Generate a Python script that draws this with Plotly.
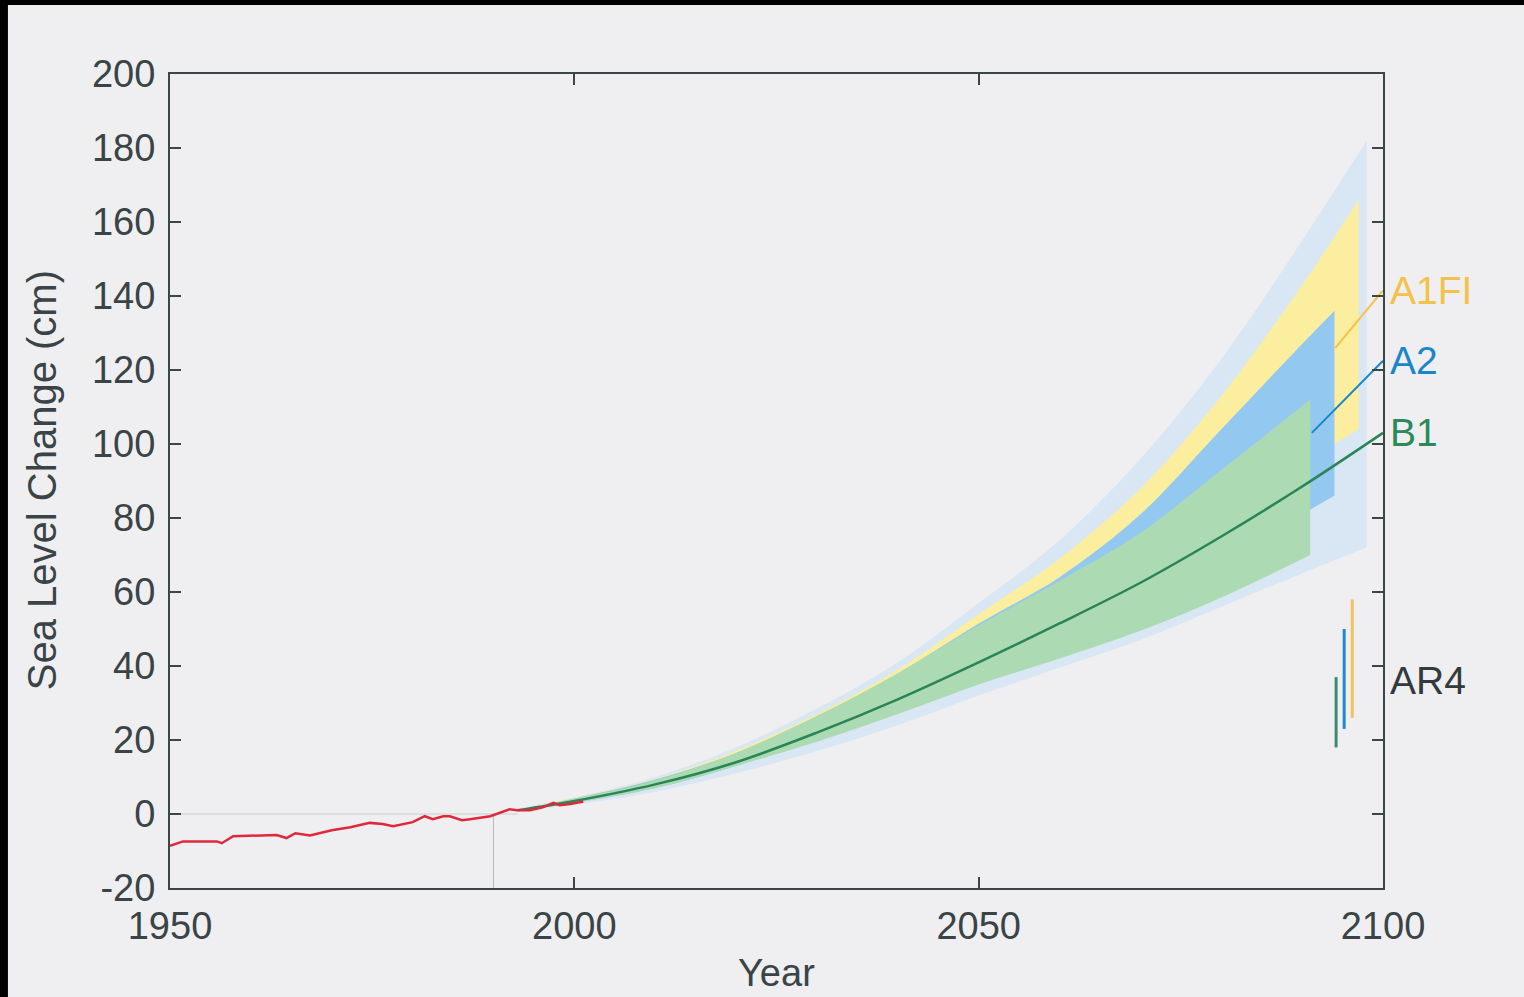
import plotly.graph_objects as go

# ---------------- data ----------------
obs_years = [1950, 1951.6, 1955.8, 1956.4, 1957.8, 1961.1, 1963.2, 1964.4, 1965.5, 1967.3,
             1968.9, 1970, 1972.3, 1974.7, 1976.3, 1977.6, 1980, 1981.5, 1982.5, 1983.8,
             1984.6, 1986.1, 1987.1, 1989.6, 1992, 1992.9, 1994.5, 1996.1, 1997.4, 1998.2,
             1999.5, 2001.1]
obs_values = [-8.6, -7.4, -7.4, -7.9, -6.0, -5.7, -5.7, -6.5, -5.2, -5.8,
              -5.0, -4.4, -3.6, -2.4, -2.7, -3.3, -2.2, -0.6, -1.4, -0.6,
              -0.6, -1.7, -1.4, -0.6, 1.3, 1.0, 1.0, 1.8, 3.0, 2.4,
              2.7, 3.4]

env_years = [1993, 2000, 2010, 2020, 2030, 2040, 2050, 2060, 2070, 2080, 2090, 2098]
env_upper = [1.5, 4.5, 10, 18, 28.5, 41, 57, 74, 96, 123, 155, 182]
env_lower = [1.0, 2.5, 6, 11, 17, 24, 32, 39.5, 47, 56, 65, 72]

a1fi_years = [1995, 2000, 2010, 2020, 2030, 2040, 2050, 2060, 2070, 2080, 2090, 2097]
a1fi_upper = [2.0, 4.3, 9.5, 17, 27, 39, 54, 69, 88, 113, 143, 166]
a1fi_lower = [1.5, 3.2, 7.2, 13.5, 21, 29, 38, 49, 61, 74, 94, 104]

a2_years = [1995, 2000, 2010, 2020, 2030, 2040, 2050, 2060, 2070, 2080, 2090, 2094]
a2_upper = [2.0, 4.2, 9.3, 16.5, 26.5, 38, 51.5, 64, 81, 104, 127, 136]
a2_lower = [1.5, 3.0, 7, 13, 20, 28, 36, 46, 57, 68, 81, 86]

b1_years = [1995, 2000, 2010, 2020, 2030, 2040, 2050, 2060, 2070, 2080, 2091]
b1_upper = [2.0, 4.1, 9, 16.5, 26.5, 38, 51, 63, 76, 93, 112]
b1_lower = [1.5, 3.0, 7, 13, 19.5, 27, 35, 42, 49.5, 58.5, 70]

b1_mid_years = [1993, 2000, 2010, 2020, 2030, 2040, 2050, 2060, 2070, 2080, 2090, 2100]
b1_mid_values = [1.0, 3.5, 8, 14, 22, 31, 41, 51.5, 62.5, 75, 88.5, 103]

a2_lead_years = [2091.2, 2100]
a2_lead_values = [103, 122.5]
a1fi_lead_years = [2094.1, 2100]
a1fi_lead_values = [126, 141.5]

ar4_names = ["B1", "A2", "A1FI"]
ar4_x = [2094.2, 2095.2, 2096.2]
ar4_low = [18, 23, 26]
ar4_high = [37, 50, 58]

ref_zero_years = [1950, 1993]
ref_zero_values = [0, 0]
ref_vert_years = [1990, 1990]
ref_vert_values = [-20, 0]

label_names = ["A1FI", "A2", "B1", "AR4"]
label_values = [141.5, 122.5, 103, 36]

x_ticks = [1950, 2000, 2050, 2100]
x_tick_labels = ["1950", "2000", "2050", "2100"]
y_ticks = [-20, 0, 20, 40, 60, 80, 100, 120, 140, 160, 180, 200]
y_tick_labels = ["-20", "0", "20", "40", "60", "80", "100", "120", "140", "160", "180", "200"]

# ---------------- style ----------------
BG = "#efeff1"
AXC = "#3b4746"
TXT = "#3a4446"
FONT = "Liberation Sans, Arial, sans-serif"

C_ENV = "#d9e7f4"
C_A1FI = "#fbee9e"
C_A2 = "#93c9f0"
C_B1 = "#acdab2"
C_RED = "#e0283c"
C_GREEN = "#2a8456"
C_A2L = "#1b86c8"
C_A1FIL = "#f2c24a"
AR4_COL = ["#3d8a70", "#1c8ad0", "#f2c25a"]
LABEL_COL = ["#f2c24a", "#1b86c8", "#2a8a5a", "#333a3c"]

fig = go.Figure()


def band(years, lower, upper, color):
    fig.add_trace(go.Scatter(x=years, y=lower, mode="lines", line=dict(width=0, shape="spline", smoothing=1.0),
                             showlegend=False, hoverinfo="skip"))
    fig.add_trace(go.Scatter(x=years, y=upper, mode="lines", line=dict(width=0, shape="spline", smoothing=1.0),
                             fill="tonexty", fillcolor=color, showlegend=False, hoverinfo="skip"))


# reference lines
fig.add_trace(go.Scatter(x=ref_zero_years, y=ref_zero_values, mode="lines",
                         line=dict(color="#c9cfcf", width=1), showlegend=False))
fig.add_trace(go.Scatter(x=ref_vert_years, y=ref_vert_values, mode="lines",
                         line=dict(color="#b5bbbb", width=1), showlegend=False))

band(env_years, env_lower, env_upper, C_ENV)
band(a1fi_years, a1fi_lower, a1fi_upper, C_A1FI)
band(a2_years, a2_lower, a2_upper, C_A2)
band(b1_years, b1_lower, b1_upper, C_B1)

fig.add_trace(go.Scatter(x=a1fi_lead_years, y=a1fi_lead_values, mode="lines",
                         line=dict(color=C_A1FIL, width=2), showlegend=False))
fig.add_trace(go.Scatter(x=a2_lead_years, y=a2_lead_values, mode="lines",
                         line=dict(color=C_A2L, width=2), showlegend=False))
fig.add_trace(go.Scatter(x=b1_mid_years, y=b1_mid_values, mode="lines",
                         line=dict(color=C_GREEN, width=2.5, shape="spline", smoothing=1.0), showlegend=False))
fig.add_trace(go.Scatter(x=obs_years, y=obs_values, mode="lines",
                         line=dict(color=C_RED, width=2.5), showlegend=False))

for name, xv, lo, hi, col in zip(ar4_names, ar4_x, ar4_low, ar4_high, AR4_COL):
    fig.add_trace(go.Scatter(x=[xv, xv], y=[lo, hi], mode="lines", name=name,
                             line=dict(color=col, width=3), showlegend=False))

annotations = []
for name, val, col in zip(label_names, label_values, LABEL_COL):
    annotations.append(dict(x=2100, y=val, xref="x", yref="y", text=name, showarrow=False,
                            xanchor="left", yanchor="middle", xshift=5,
                            font=dict(family=FONT, size=39, color=col)))
annotations.append(dict(x=0.5, y=-0.105, xref="paper", yref="paper", text="Year", showarrow=False,
                        xanchor="center", yanchor="middle", font=dict(family=FONT, size=38, color=TXT)))
annotations.append(dict(x=-0.1055, y=0.501, xref="paper", yref="paper", text="Sea Level Change (cm)",
                        showarrow=False, textangle=-90, xanchor="center", yanchor="middle",
                        font=dict(family=FONT, size=40, color=TXT)))

shapes = [
    dict(type="rect", xref="paper", yref="paper", x0=-0.1402, x1=-0.1336, y0=-0.134, y1=1.0909,
         fillcolor="black", line=dict(width=0), layer="above"),
    dict(type="rect", xref="paper", yref="paper", x0=-0.1402, x1=1.1163, y0=1.0848, y1=1.0909,
         fillcolor="black", line=dict(width=0), layer="above"),
]

fig.update_layout(
    width=1524, height=997, autosize=False,
    margin=dict(l=170, r=141, t=74, b=109),
    paper_bgcolor=BG, plot_bgcolor=BG,
    showlegend=False,
    annotations=annotations,
    shapes=shapes,
    font=dict(family=FONT, color=TXT, size=38),
)
fig.update_xaxes(range=[1950, 2100], tickvals=x_ticks, ticktext=x_tick_labels,
                 showline=True, linecolor=AXC, linewidth=2, mirror="ticks",
                 ticks="inside", ticklen=11, tickwidth=1.5, tickcolor=AXC,
                 showgrid=False, zeroline=False, ticklabelstandoff=3,
                 tickfont=dict(family=FONT, size=38, color=TXT))
fig.update_yaxes(range=[-20, 200], tickvals=y_ticks, ticktext=y_tick_labels,
                 showline=True, linecolor=AXC, linewidth=2, mirror="ticks",
                 ticks="inside", ticklen=11, tickwidth=1.5, tickcolor=AXC,
                 showgrid=False, zeroline=False, ticklabelstandoff=5,
                 tickfont=dict(family=FONT, size=38, color=TXT))

fig.write_html(
    "out.html",
    config={"displayModeBar": False},
    post_script="document.body.style.margin='0';document.body.style.padding='0';"
                "document.body.style.overflow='hidden';document.body.style.background='#efeff1';",
)
